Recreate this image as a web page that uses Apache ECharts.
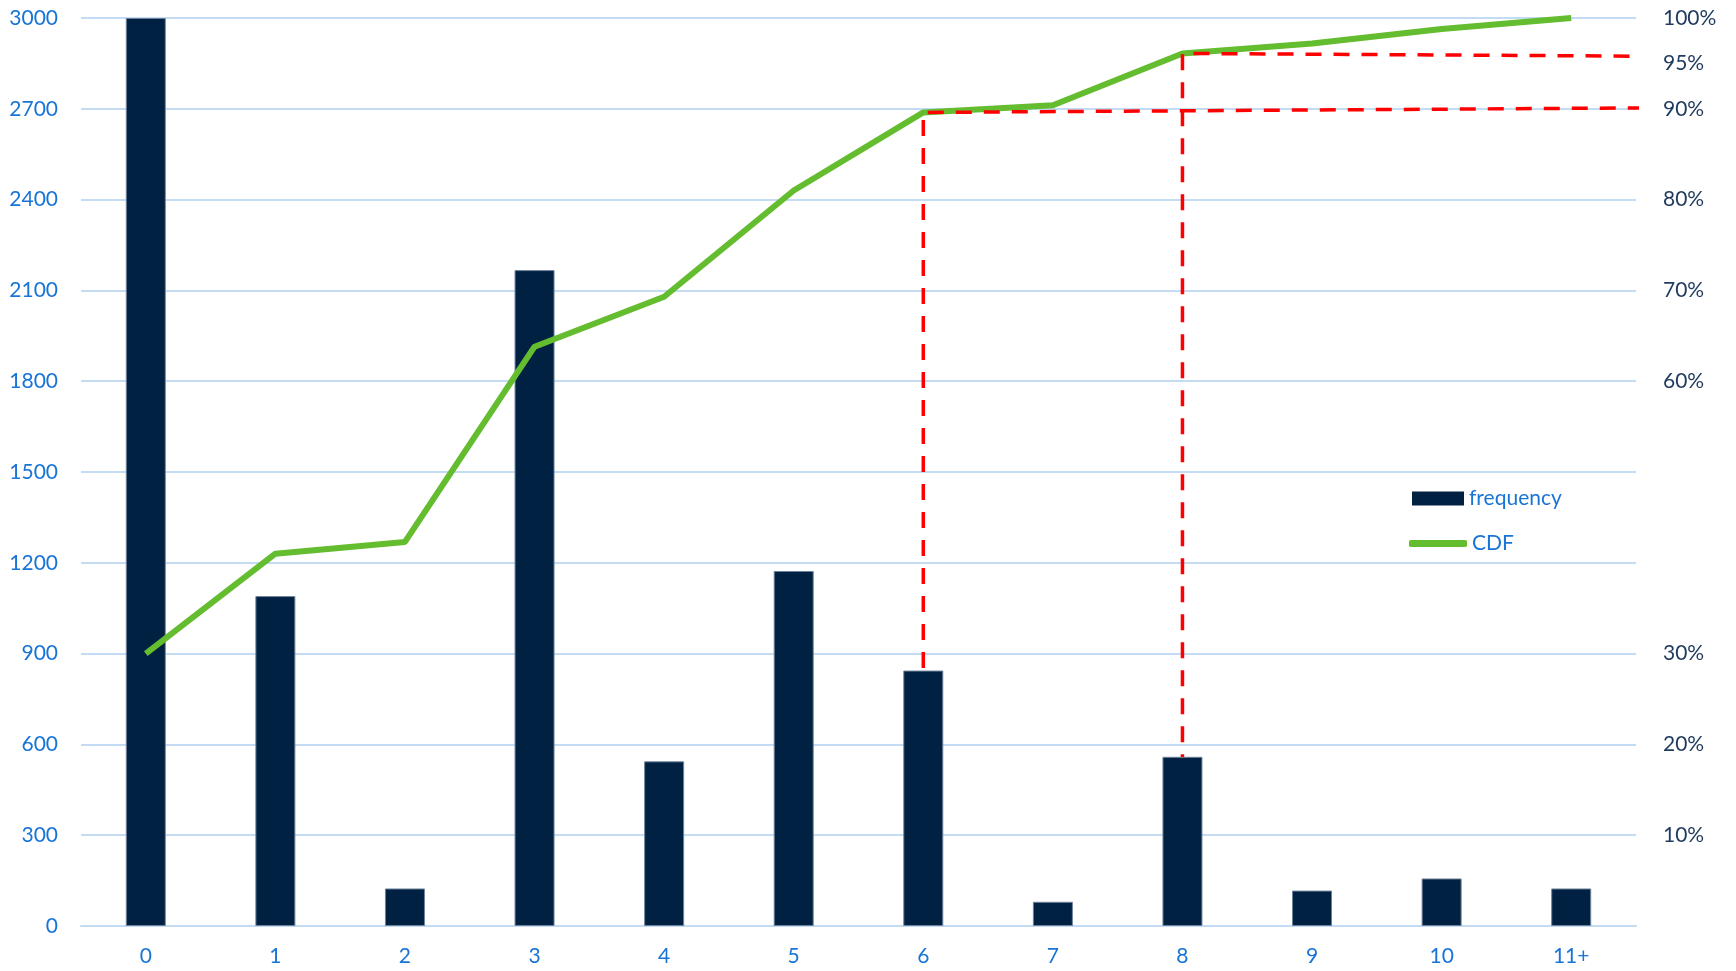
<!DOCTYPE html>
<html>
    <head>
        <meta charset="UTF-8">
        <title>frequency / CDF</title>
        <script type="text/javascript" src="https://cdn.jsdelivr.net/npm/echarts@6/dist/echarts.min.js"></script>
    </head>
    <body style="height: 100%; margin: 0; overflow: hidden;">
        <div id="container" style="width: 1736px; height: 971px"></div>
    </body>
    <script type="text/javascript">
        var dom = document.getElementById("container");
        var myChart = echarts.init(dom);
        var option;

        const categories = ['0', '1', '2', '3', '4', '5', '6', '7', '8', '9', '10', '11+'];
        const frequency = [3000, 1090, 124, 2167, 544, 1173, 844, 80, 559, 117, 157, 124];
        // CDF in percent
        const cdf = [30, 41, 42.3, 63.8, 69.3, 81, 89.6, 90.4, 96.1, 97.2, 98.8, 100];
        // labels shown on the right axis
        const rightTicks = [10, 20, 30, 60, 70, 80, 90, 95, 100];
        // red dashed guides: category index, level at start / end, bottom, end position
        const cutIdx = [6, 8];
        const cutLevel = [[89.6, 90.1], [96.1, 95.8]];
        const cutBottom = [28.1, 18.6];
        const cutEnd = [11.56, 11.45];

        const font = 'Lato';
        const blue = '#1874D6';
        const gridColor = '#C3DCF4';

        var guides = [];
        cutIdx.forEach(function (c, i) {
            guides.push({
                type: 'line',
                xAxisIndex: 1,
                yAxisIndex: 1,
                symbol: 'none',
                silent: true,
                clip: false,
                z: 5,
                lineStyle: { color: '#FF0000', width: 3.5, type: [16, 12] },
                data: [[cutEnd[i], cutLevel[i][1]], [c, cutLevel[i][0]], [c, cutBottom[i]]]
            });
        });

        option = {
            animation: false,
            backgroundColor: '#ffffff',
            grid: { left: 81, right: 100, top: 18, bottom: 45 },
            legend: [
                {
                    data: ['frequency'],
                    left: 1407,
                    top: 483,
                    itemWidth: 52,
                    itemHeight: 14,
                    icon: 'rect',
                    itemStyle: { borderWidth: 0 },
                    textStyle: { color: blue, fontFamily: font, fontSize: 21 }
                },
                {
                    data: ['CDF'],
                    left: 1404,
                    top: 528,
                    itemWidth: 58,
                    itemHeight: 7,
                    icon: 'roundRect',
                    textStyle: { color: blue, fontFamily: font, fontSize: 21 }
                }
            ],
            xAxis: [
                {
                    type: 'category',
                    data: categories,
                    axisLine: { lineStyle: { color: gridColor, width: 2 } },
                    axisTick: { show: false },
                    axisLabel: { color: blue, fontFamily: font, fontSize: 21, margin: 20 }
                },
                {
                    type: 'value',
                    min: -0.5,
                    max: 11.5,
                    show: false
                }
            ],
            yAxis: [
                {
                    type: 'value',
                    min: 0,
                    max: 3000,
                    interval: 300,
                    axisLine: { show: false },
                    axisTick: { show: false },
                    splitLine: { lineStyle: { color: gridColor, width: 2 } },
                    axisLabel: {
                        color: blue,
                        fontFamily: font,
                        fontSize: 21,
                        margin: 23,
                        formatter: function (v) { return String(v); }
                    }
                },
                {
                    type: 'value',
                    min: 0,
                    max: 100,
                    interval: 5,
                    position: 'right',
                    axisLine: { show: false },
                    axisTick: { show: false },
                    splitLine: { show: false },
                    axisLabel: {
                        color: '#1F3A5F',
                        fontFamily: font,
                        fontSize: 21,
                        margin: 27,
                        formatter: function (v) {
                            return rightTicks.indexOf(v) >= 0 ? v + '%' : '';
                        }
                    }
                }
            ],
            series: [
                {
                    name: 'frequency',
                    type: 'bar',
                    data: frequency,
                    barWidth: 40,
                    itemStyle: { color: '#002142', borderColor: '#6F829C', borderWidth: 1 }
                },
                {
                    name: 'CDF',
                    type: 'line',
                    yAxisIndex: 1,
                    data: cdf,
                    symbol: 'none',
                    z: 4,
                    color: '#64BC2F',
                    lineStyle: { color: '#64BC2F', width: 6 }
                }
            ].concat(guides)
        };

        if (option && typeof option === 'object') {
            myChart.setOption(option);
        }
    </script>
</html>
